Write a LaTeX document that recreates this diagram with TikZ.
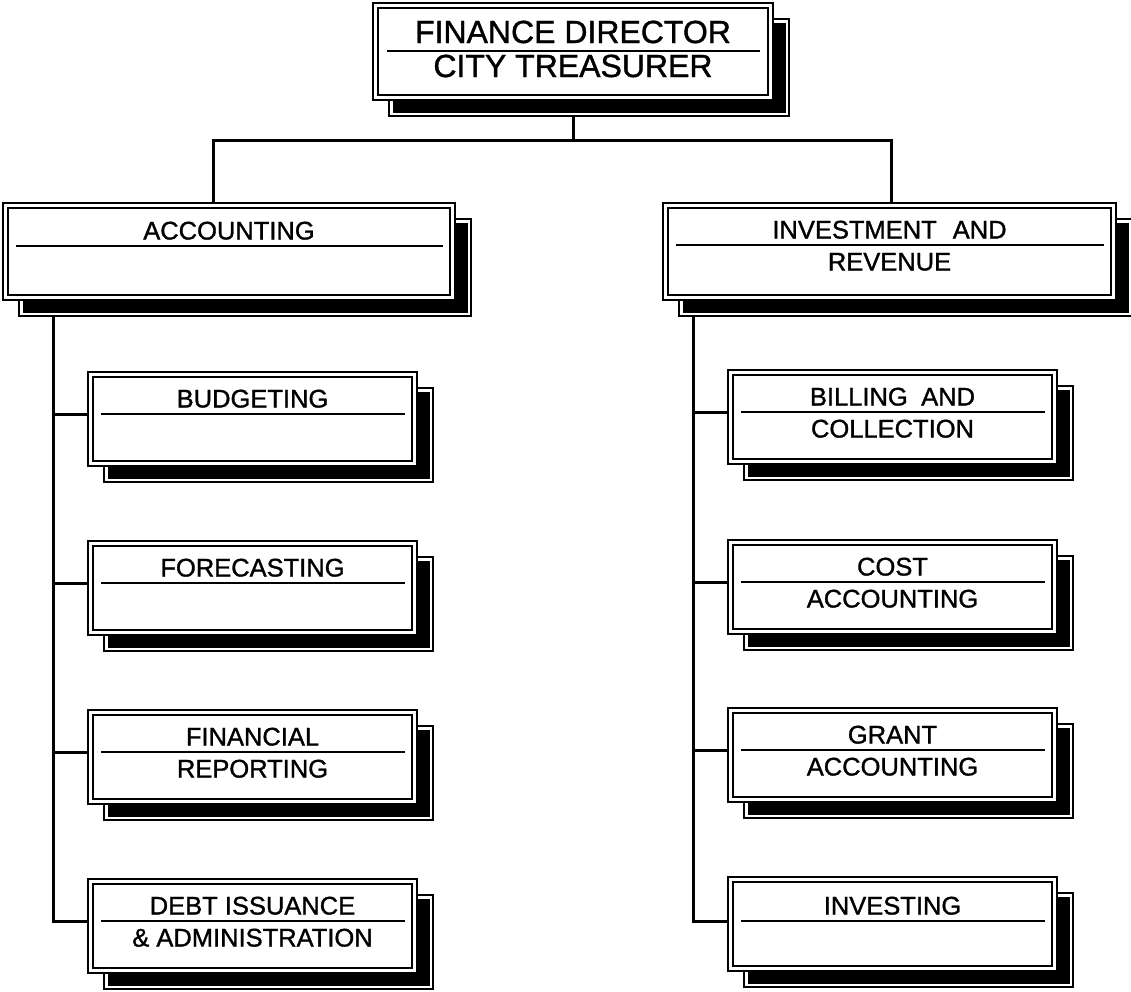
\documentclass[tikz,border=0pt]{standalone}
\usepackage{fontspec}
\setmainfont{Liberation Sans}[FakeBold=1.2]
\usetikzlibrary{calc}
\pgfdeclarelayer{bg}
\pgfsetlayers{bg,main}
\newcommand\subfont{\fontsize{25.5}{30}\selectfont}
\newcommand\topfont{\fontsize{32}{37}\selectfont}
\tikzset{
  orgunit/.style={rectangle, draw=black, line width=2.4pt, double=white, double distance=2.8pt, fill=white, inner sep=0pt, outer sep=0pt},
  shadowline/.style={draw=black, line width=2pt, fill=white},
  conn/.style={draw=black, line width=3pt},
  divline/.style={draw=black, line width=2.2pt},
  lbl/.style={anchor=base, inner sep=0pt, font=\subfont},
  toplbl/.style={anchor=base, inner sep=0pt, font=\topfont},
}
% name, x0, y0, x1, y1, divider y, line1, line2
\newcommand\orgbox[8]{%
  \path[shadowline] (#2+16,#3+16) rectangle (#4+16,#5+16);
  \fill[black] (#2+19.5,#3+19.5) rectangle (#4+12.5,#5+12.5);
  \node[orgunit, minimum width={#4-#2-5.3}, minimum height={#5-#3-5.3}] (#1) at ({(#2+#4)/2},{(#3+#5)/2}) {};
  \draw[divline] (#2+13,#6) -- (#4-12,#6);
  \coordinate (#1-d) at (#2,#6);
  \node[lbl] (#1-a) at ({(#2+#4)/2},#6-6.5) {#7};
  \node[lbl] (#1-b) at ({(#2+#4)/2},#6+25.5) {#8};
}
\begin{document}
\begin{tikzpicture}[x=1pt,y=-1pt]
\useasboundingbox (0,0) rectangle (1131,991);
% top box
\path[shadowline] (389,19) rectangle (789,116);
\fill[black] (392.5,22.5) rectangle (785.5,112.5);
\node[orgunit, minimum width=394.7, minimum height=91.7] (top) at (573,51.5) {};
\draw[divline] (387,51) -- (760,51);
\node[toplbl] (top-a) at (573,43) {FINANCE DIRECTOR};
\node[toplbl] (top-b) at (573,77) {CITY TREASURER};
% second level
\orgbox{acc}{3}{203}{455}{300}{246}{ACCOUNTING}{}
\orgbox{inv}{663}{203}{1116}{300}{245}{INVESTMENT\hspace{0.35em} AND}{REVENUE}
% left column
\orgbox{bud}{88}{372}{417}{466}{414}{BUDGETING}{}
\orgbox{fore}{88}{541}{417}{635}{583}{FORECASTING}{}
\orgbox{finrep}{88}{710}{417}{804}{752}{FINANCIAL}{REPORTING}
\orgbox{debt}{88}{879}{417}{973}{921}{DEBT ISSUANCE}{\& ADMINISTRATION}
% right column
\orgbox{bill}{728}{370}{1057}{464}{412}{BILLING\hspace{0.25em} AND}{COLLECTION}
\orgbox{cost}{728}{540}{1057}{634}{582}{COST}{ACCOUNTING}
\orgbox{grant}{728}{708}{1057}{802}{750}{GRANT}{ACCOUNTING}
\orgbox{invs}{728}{877}{1057}{971}{921}{INVESTING}{}
% connectors
\begin{pgfonlayer}{bg}
\coordinate (j0) at (573,140);
\coordinate (jl) at (213,140);
\coordinate (jr) at (891,140);
\draw[conn] (top.south) -- (j0);
\draw[conn] (jl |- acc.north) |- (jr) -- (jr |- inv.north);
\coordinate (ls) at (53,300);
\draw[conn] (ls) |- (debt-d);
\draw[conn] (ls |- bud-d) -- (bud-d);
\draw[conn] (ls |- fore-d) -- (fore-d);
\draw[conn] (ls |- finrep-d) -- (finrep-d);
\coordinate (rs) at (693,300);
\draw[conn] (rs) |- (invs-d);
\draw[conn] (rs |- bill-d) -- (bill-d);
\draw[conn] (rs |- cost-d) -- (cost-d);
\draw[conn] (rs |- grant-d) -- (grant-d);
\end{pgfonlayer}
\end{tikzpicture}
\end{document}
